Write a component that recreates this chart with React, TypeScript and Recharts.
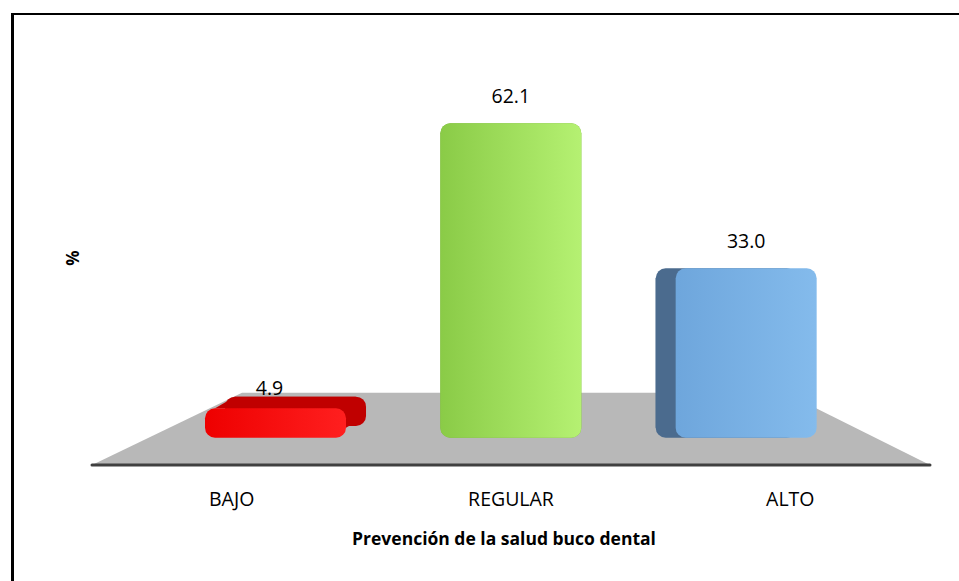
import {
  BarChart,
  Bar,
  XAxis,
  YAxis,
  ReferenceArea,
  ReferenceLine,
  LabelList,
} from 'recharts';

// Categories and values
const categories = ['BAJO', 'REGULAR', 'ALTO'];
const percentages = [4.9, 62.1, 33.0];

const frontLeft = ['#ee0000', '#8acb47', '#6ea6dc'];
const frontRight = ['#ff1f1f', '#b5f172', '#84bbec'];
const backColors = ['#c00000', '#78b03c', '#4b6b8e'];

const data = categories.map((name, i) => ({ name, value: percentages[i] }));

const FONT = '"Open Sans", "Noto Sans", sans-serif';
const CENTER_X = 511;

// fake perspective: bars away from the middle show a side / top face
const depthOf = (cx: number, top: number) => {
  const dx = (CENTER_X - cx) * 0.085;
  const dy = Math.min(0, (top - 300) * -0.107);
  return { dx, dy };
};

const Bar3D = (props: any) => {
  const { x, y, width, height, index } = props;
  if (width == null || height == null) return null;
  const h = height + 5;
  const { dx, dy } = depthOf(x + width / 2, y);
  const r = 10;
  const gid = `front-${index}`;
  const back = backColors[index];
  return (
    <g>
      <defs>
        <linearGradient id={gid} x1="0" y1="0" x2="1" y2="0">
          <stop offset="0%" stopColor={frontLeft[index]} />
          <stop offset="100%" stopColor={frontRight[index]} />
        </linearGradient>
      </defs>
      {(dx !== 0 || dy !== 0) && (
        <>
          <rect x={x + dx} y={y + dy} width={width} height={h} rx={r} ry={r} fill={back} />
          <polygon
            points={`${x + r},${y} ${x + width - r},${y} ${x + width - r + dx},${y + dy} ${x + r + dx},${y + dy}`}
            fill={back}
          />
          <polygon
            points={
              dx > 0
                ? `${x + width},${y + r} ${x + width + dx},${y + r + dy} ${x + width + dx},${y + h - r + dy} ${x + width},${y + h - r}`
                : `${x},${y + r} ${x + dx},${y + r + dy} ${x + dx},${y + h - r + dy} ${x},${y + h - r}`
            }
            fill={back}
          />
        </>
      )}
      <rect x={x} y={y} width={width} height={h} rx={r} ry={r} fill={`url(#${gid})`} />
    </g>
  );
};

const ValueLabel = (props: any) => {
  const { x, y, width, value } = props;
  const { dy } = depthOf(x + width / 2, y);
  const baseline = dy < 0 ? y + dy - 2 : y - 20;
  const shift = dy < 0 ? -6 : 0;
  return (
    <text
      x={x + width / 2 + shift}
      y={baseline}
      textAnchor="middle"
      fontFamily={FONT}
      fontSize={19.5}
      fill="#000"
    >
      {Number(value).toFixed(1)}
    </text>
  );
};

const Floor = (props: any) => {
  const { x, y, width, height } = props;
  return (
    <polygon
      points={`${x},${y + height} ${x + width},${y + height} ${x + width - 145},${y} ${x + 150},${y}`}
      fill="#b8b8b8"
    />
  );
};

export default function App() {
  return (
    <div
      style={{
        position: 'absolute',
        left: 0,
        top: 0,
        width: 959,
        height: 581,
        background: '#fff',
        overflow: 'hidden',
      }}
    >
      <div
        style={{
          position: 'absolute',
          left: 11,
          top: 13,
          width: 1000,
          height: 700,
          borderLeft: '3px solid #000',
          borderTop: '2px solid #000',
        }}
      />
      <BarChart
        width={959}
        height={581}
        data={data}
        margin={{ top: 84, right: 29, bottom: 86, left: 92 }}
        style={{ position: 'absolute', left: 0, top: 0 }}
      >
        <YAxis hide width={0} type="number" domain={[-6.5, 70]} allowDataOverflow />
        <XAxis xAxisId="bars" dataKey="name" hide height={0} padding={{ left: 66, right: 66 }} />
        <XAxis
          xAxisId="cat"
          dataKey="name"
          height={30}
          axisLine={false}
          tickLine={false}
          tickMargin={21}
          tick={{ fill: '#000', fontFamily: FONT, fontSize: 19.5 }}
        />
        <ReferenceArea xAxisId="cat" y1={-6.5} y2={8} shape={<Floor />} ifOverflow="visible" />
        <ReferenceLine
          xAxisId="cat"
          y={-6.5}
          stroke="#404040"
          strokeWidth={3}
          strokeLinecap="round"
          ifOverflow="visible"
        />
        <Bar
          xAxisId="bars"
          dataKey="value"
          barSize={141}
          shape={<Bar3D />}
          isAnimationActive={false}
        >
          <LabelList dataKey="value" content={<ValueLabel />} />
        </Bar>
      </BarChart>
      <div
        style={{
          position: 'absolute',
          left: 0,
          width: 1008,
          top: 526,
          textAlign: 'center',
          fontFamily: FONT,
          fontWeight: 700,
          fontSize: 17.5,
          color: '#000',
        }}
      >
        Prevención de la salud buco dental
      </div>
      <div
        style={{
          position: 'absolute',
          left: 72,
          top: 258,
          transform: 'translate(-50%, -50%) rotate(-90deg)',
          fontFamily: FONT,
          fontWeight: 700,
          fontSize: 17,
          color: '#000',
        }}
      >
        %
      </div>
    </div>
  );
}
